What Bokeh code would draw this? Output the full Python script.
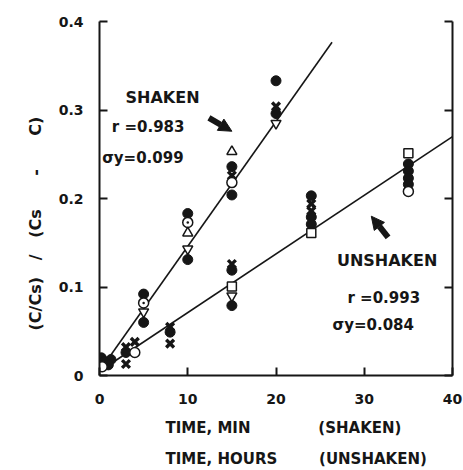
import math
from bokeh.plotting import figure
from bokeh.models import Range1d, LinearAxis, FixedTicker, Label, Arrow, NormalHead, Title
from bokeh.embed import file_html
from bokeh.resources import INLINE

# ---------------- data ----------------
X_TICKS = [0, 10, 20, 30, 40]
Y_TICKS = [0, 0.1, 0.2, 0.3, 0.4]
Y_TICK_LABELS = {0: "0"}

# Shaken (time in minutes)
SH_FILLED_X = [0.2, 1.3, 5, 5, 10, 10, 15, 15, 20, 20]
SH_FILLED_Y = [0.020, 0.018, 0.092, 0.060, 0.183, 0.131, 0.236, 0.204, 0.333, 0.296]
SH_CROSS_X = [15, 20]
SH_CROSS_Y = [0.226, 0.304]
SH_OPEN_X = [0.2, 15]
SH_OPEN_Y = [0.012, 0.218]
SH_DOT_X = [5, 10]
SH_DOT_Y = [0.082, 0.173]
SH_TRI_X = [10, 15]
SH_TRI_Y = [0.161, 0.253]
SH_INV_X = [5, 10, 20]
SH_INV_Y = [0.072, 0.143, 0.285]

# Unshaken (time in hours)
UN_FILLED_X = [0.5, 1.0, 3, 8, 15, 15, 24, 24, 24, 35, 35, 35, 35]
UN_FILLED_Y = [0.016, 0.012, 0.026, 0.049, 0.119, 0.079, 0.203, 0.179, 0.171, 0.239, 0.231, 0.223, 0.216]
UN_CROSS_X = [3, 3, 4, 8, 8, 15, 24, 24]
UN_CROSS_Y = [0.032, 0.013, 0.038, 0.055, 0.036, 0.126, 0.194, 0.186]
UN_OPEN_X = [0.3, 4, 35]
UN_OPEN_Y = [0.010, 0.026, 0.208]
UN_SQ_X = [15, 24, 35]
UN_SQ_Y = [0.1005, 0.161, 0.251]
UN_INV_X = [15]
UN_INV_Y = [0.090]

# Regression lines: intercept, slope, x-span
SH_FIT = (0.005, 0.0141)
SH_SPAN = [1.25, 26.35]
UN_FIT = (0.0048, 0.00663)
UN_SPAN = [0.3, 40.0]

NB = "\u00a0"
Y_LABEL = "(C/Cs)" + NB * 3 + "/" + NB * 3 + "(Cs" + NB * 6 + "-" + NB * 6 + "C)"
X_LABEL_1 = "TIME, MIN" + NB * 13 + "(SHAKEN)"
X_LABEL_2 = "TIME, HOURS" + NB * 8 + "(UNSHAKEN)"

INK = "#161616"
FONT = "DejaVu Sans"

p = figure(width=463, height=470, output_backend="svg", toolbar_location=None,
           x_range=Range1d(0, 40), y_range=Range1d(0, 0.4),
           min_border_left=99, min_border_right=11, min_border_top=21, min_border_bottom=95,
           x_axis_location=None, y_axis_location=None)
p.outline_line_color = None
p.xgrid.visible = False
p.ygrid.visible = False
p.background_fill_color = "white"
p.border_fill_color = "white"


def style_axis(ax, show_labels=True):
    ax.axis_line_color = INK
    ax.axis_line_width = 2
    ax.major_tick_line_color = INK
    ax.major_tick_line_width = 2
    ax.major_tick_in = 8
    ax.major_tick_out = 0
    ax.minor_tick_line_color = None
    ax.major_label_text_font = FONT
    ax.major_label_text_font_style = "bold"
    ax.major_label_text_font_size = "14px"
    ax.major_label_text_color = INK if show_labels else None


left = LinearAxis(ticker=FixedTicker(ticks=Y_TICKS), major_label_overrides=Y_TICK_LABELS)
style_axis(left)
left.major_label_standoff = 16
p.add_layout(left, "left")

right = LinearAxis(ticker=FixedTicker(ticks=Y_TICKS))
style_axis(right, show_labels=False)
p.add_layout(right, "right")

bottom = LinearAxis(ticker=FixedTicker(ticks=X_TICKS))
style_axis(bottom)
bottom.major_label_standoff = 18
p.add_layout(bottom, "below")

def title(text, place, size, align, offset, standoff, line_height=1.2):
    p.add_layout(Title(text=text, text_font=FONT, text_font_style="bold", text_font_size=size,
                       text_color=INK, align=align, offset=offset, standoff=standoff,
                       text_line_height=line_height), place)

title(Y_LABEL, "left", "16px", "left", 45, 22)
title(X_LABEL_1, "below", "15px", "left", 66, 21, 0.9)
title(X_LABEL_2, "below", "15px", "left", 66, 0, 0.9)

# regression lines
for (b0, b1), span in ((SH_FIT, SH_SPAN), (UN_FIT, UN_SPAN)):
    p.line(span, [b0 + b1 * v for v in span], line_color=INK, line_width=1.6)

# markers
def filled(xs, ys):
    p.scatter(xs, ys, marker="circle", size=10, fill_color=INK, line_color=INK)

def open_m(xs, ys, marker, size=9):
    p.scatter(xs, ys, marker=marker, size=size, fill_color="white", line_color=INK, line_width=1.5)

def cross(xs, ys):
    p.scatter(xs, ys, marker="x", size=11, line_color=INK, line_width=3.4)

for series in (
    (SH_FILLED_X, SH_FILLED_Y, SH_CROSS_X, SH_CROSS_Y, SH_OPEN_X, SH_OPEN_Y),
    (UN_FILLED_X, UN_FILLED_Y, UN_CROSS_X, UN_CROSS_Y, UN_OPEN_X, UN_OPEN_Y),
):
    fx, fy, cx, cy, ox, oy = series
    filled(fx, fy)
    cross(cx, cy)
    open_m(ox, oy, "circle", 10)

open_m(SH_DOT_X, SH_DOT_Y, "circle_dot", 10)
open_m(SH_TRI_X, SH_TRI_Y, "triangle", 10)
open_m(SH_INV_X, SH_INV_Y, "inverted_triangle", 10)
open_m(UN_SQ_X, UN_SQ_Y, "square", 9)
open_m(UN_INV_X, UN_INV_Y, "inverted_triangle", 10)

# annotations inside the frame
def label(x, y, text, size):
    p.add_layout(Label(x=x, y=y, text=text, text_font=FONT, text_font_style="bold",
                       text_font_size=size, text_color=INK, text_align="left",
                       text_baseline="middle"))

label(2.95, 0.3145, "SHAKEN", "16px")
label(1.4, 0.2806, "r =0.983", "15px")
label(0.3, 0.2455, "σy=0.099", "15px")
label(26.9, 0.130, "UNSHAKEN", "16px")
label(28.1, 0.088, "r =0.993", "15px")
label(26.4, 0.0565, "σy=0.084", "15px")

for xs, ys, xe, ye in ((12.4, 0.291, 15.0, 0.276), (32.7, 0.156, 30.8, 0.180)):
    p.add_layout(Arrow(end=NormalHead(size=13, fill_color=INK, line_color=INK),
                       x_start=xs, y_start=ys, x_end=xe, y_end=ye,
                       line_color=INK, line_width=6))

open("out.html", "w").write(file_html(p, INLINE))
